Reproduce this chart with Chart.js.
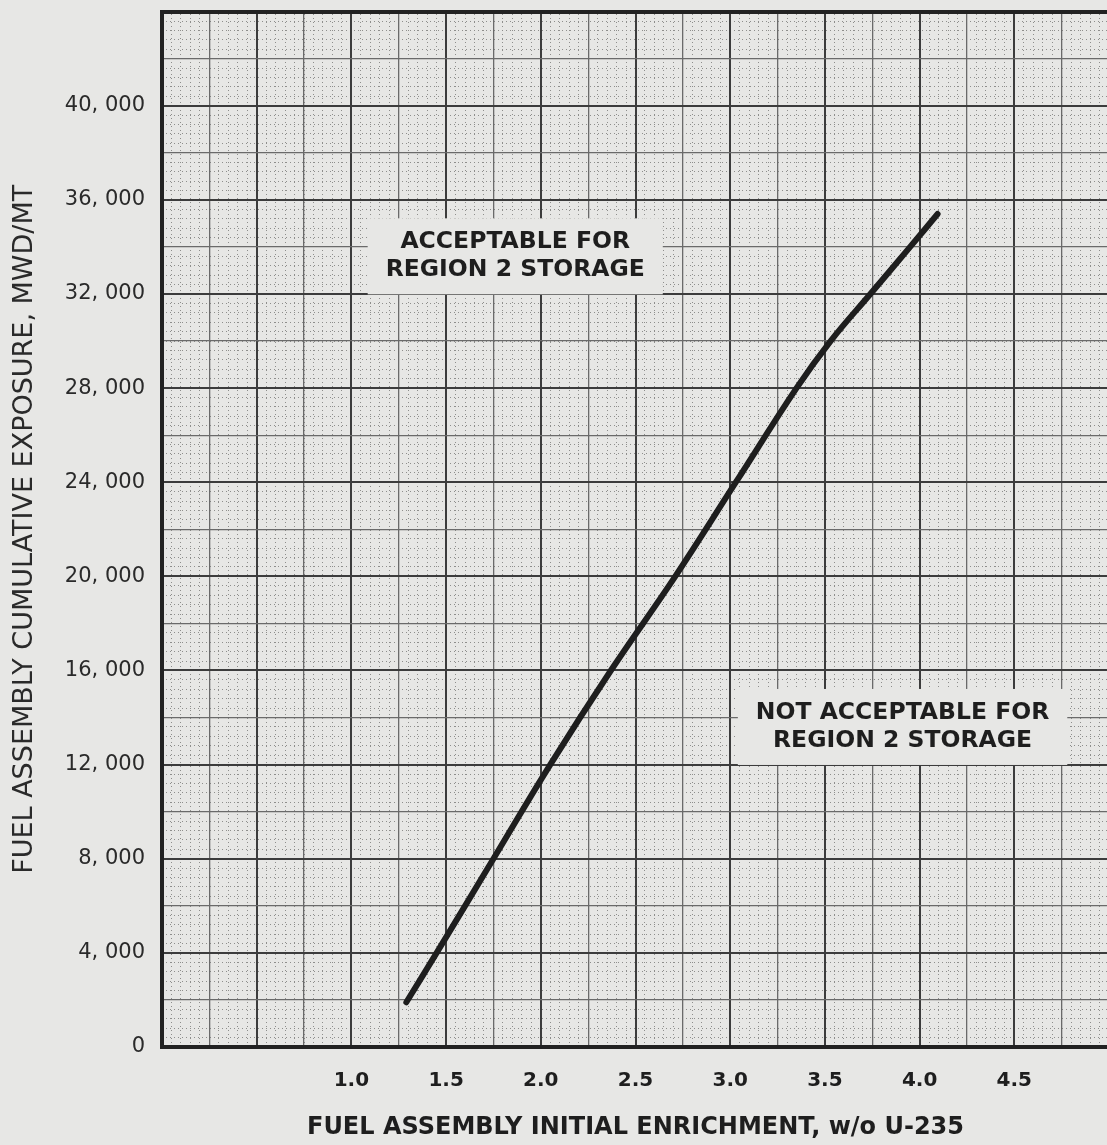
<!DOCTYPE html>
<html lang="en">
<head>
  <meta charset="UTF-8" />
  <title>Region 2 storage – exposure vs enrichment</title>
  <script src="https://cdn.jsdelivr.net/npm/chart.js"></script>
  <style>
    html, body {
      margin: 0;
      padding: 0;
      background: #e7e7e5;
      overflow: hidden;
      width: 1107px;
      height: 1145px;
    }
    #wrap {
      width: 1131px;
      height: 1163px;
      position: relative;
      top: -18px;
    }
  </style>
</head>
<body>
  <div id="wrap"><canvas id="grafico"></canvas></div>

  <script>
    // curve
    const enrichment = [1.29, 1.45, 1.75, 2.05, 2.37, 2.71, 3.03, 3.35, 3.53, 3.74, 3.95, 4.095];
    const exposure = [1900, 4000, 8000, 12000, 16000, 20000, 24000, 28000, 30000, 32000, 34000, 35400];

    const xLabels = [1.0, 1.5, 2.0, 2.5, 3.0, 3.5, 4.0, 4.5];
    const yLabels = [0, 4000, 8000, 12000, 16000, 20000, 24000, 28000, 32000, 36000, 40000];

    const xTitle = 'FUEL ASSEMBLY INITIAL ENRICHMENT, w/o U-235';
    const yTitle = 'FUEL ASSEMBLY CUMULATIVE EXPOSURE, MWD/MT';
    const regionNotes = [
      { lines: ['ACCEPTABLE FOR', 'REGION 2 STORAGE'], x: 1.865, y: 33600 },
      { lines: ['NOT ACCEPTABLE FOR', 'REGION 2 STORAGE'], x: 3.91, y: 13600 }
    ];

    const paper = '#e7e7e5';
    const ink = '#1e1e1e';

    const near = (v, list) => list.some(t => Math.abs(t - v) < 1e-6);

    const notasPlugin = {
      id: 'notas',
      beforeDatasetsDraw(chart) {
        const ctx = chart.ctx;
        const sx = chart.scales.x, sy = chart.scales.y;
        ctx.save();
        ctx.font = 'bold 23.5px "DejaVu Sans"';
        ctx.textAlign = 'center';
        ctx.textBaseline = 'middle';
        regionNotes.forEach(n => {
          const cx = sx.getPixelForValue(n.x);
          const cy = sy.getPixelForValue(n.y);
          const w = Math.max(...n.lines.map(l => ctx.measureText(l).width)) + 36;
          const h = n.lines.length * 28 + 20;
          ctx.fillStyle = paper;
          ctx.fillRect(cx - w / 2, cy - h / 2, w, h);
          ctx.fillStyle = ink;
          n.lines.forEach((l, i) => {
            ctx.fillText(l, cx, cy + (i - (n.lines.length - 1) / 2) * 28);
          });
        });
        ctx.restore();
      }
    };

    new Chart(document.getElementById('grafico'), {
      type: 'scatter',
      data: {
        datasets: [{
          data: enrichment.map((e, i) => ({ x: e, y: exposure[i] })),
          showLine: true,
          borderColor: ink,
          borderWidth: 6,
          borderCapStyle: 'round',
          tension: 0.4,
          pointRadius: 0
        }]
      },
      options: {
        responsive: true,
        maintainAspectRatio: false,
        animation: false,
        layout: { padding: { top: 10, right: 7, left: 0, bottom: 0 } },
        plugins: { legend: { display: false }, tooltip: { enabled: false } },
        scales: {
          x: {
            type: 'linear',
            position: 'bottom',
            min: 0,
            max: 5,
            afterFit: s => { s.height = 98; },
            ticks: {
              stepSize: 0.25,
              autoSkip: false,
              maxRotation: 0,
              padding: 22,
              color: ink,
              font: { family: '"DejaVu Sans"', size: 20, weight: 'bold' },
              callback: v => near(v, xLabels) ? v.toFixed(1) : ''
            },
            grid: {
              z: -1,
              drawTicks: false,
              color: c => Math.abs(c.tick.value * 2 - Math.round(c.tick.value * 2)) < 1e-6 ? '#3c3c3c' : '#6a6a6a',
              lineWidth: c => Math.abs(c.tick.value * 2 - Math.round(c.tick.value * 2)) < 1e-6 ? 2 : 1.3
            },
            border: { display: true, width: 4, color: '#222' },
            title: {
              display: true,
              text: xTitle,
              color: ink,
              padding: { top: 0, bottom: 3 },
              font: { family: '"DejaVu Sans"', size: 24, weight: 'bold' }
            }
          },
          xMinor: {
            type: 'linear',
            position: 'top',
            min: 0,
            max: 5,
            afterFit: s => { s.height = 0; },
            ticks: { display: false, stepSize: 0.05, autoSkip: false },
            grid: { z: -2, drawTicks: false, color: '#8e8e8c', lineWidth: 1 },
            border: { display: true, width: 4, color: '#222', dash: [1, 3] }
          },
          y: {
            type: 'linear',
            position: 'left',
            min: 0,
            max: 44000,
            afterFit: s => { s.width = 162; },
            ticks: {
              stepSize: 2000,
              autoSkip: false,
              padding: 17,
              color: '#2a2a2a',
              font: { family: '"DejaVu Sans"', size: 21 },
              callback: v => near(v, yLabels) ? (v === 0 ? '0' : Math.round(v / 1000) + ', 000') : ''
            },
            grid: {
              z: -1,
              drawTicks: false,
              color: c => c.tick.value % 4000 === 0 ? '#3c3c3c' : '#6a6a6a',
              lineWidth: c => c.tick.value % 4000 === 0 ? 2 : 1.3
            },
            border: { display: true, width: 4, color: '#222' },
            title: {
              display: true,
              text: yTitle,
              color: '#2a2a2a',
              padding: { top: 9, bottom: 0 },
              font: { family: '"DejaVu Sans"', size: 27 }
            }
          },
          yMinor: {
            type: 'linear',
            position: 'right',
            min: 0,
            max: 44000,
            afterFit: s => { s.width = 0; },
            ticks: { display: false, stepSize: 400, autoSkip: false },
            grid: { z: -2, drawTicks: false, color: '#8e8e8c', lineWidth: 1 },
            border: { display: false, dash: [1, 3] }
          }
        }
      },
      plugins: [notasPlugin]
    });
  </script>
</body>
</html>
